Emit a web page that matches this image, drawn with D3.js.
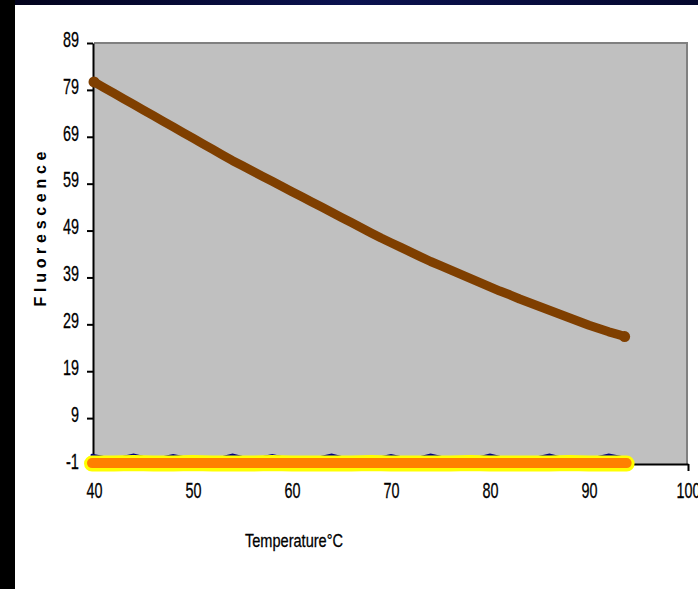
<!DOCTYPE html>
<html>
<head>
<meta charset="utf-8">
<script src="https://cdn.jsdelivr.net/npm/d3@7"></script>
<style>
  html, body { margin: 0; padding: 0; background: #fff; }
  svg { display: block; }
  text { font-family: "Liberation Sans", Arial, sans-serif; }
</style>
</head>
<body>
<div id="the_chart"></div>
<script>
// melt curve, fluorescence, one value per degree
var temps = [40, 41, 42, 43, 44, 45, 46, 47, 48, 49, 50, 51, 52, 53, 54, 55, 56, 57, 58, 59,
    60, 61, 62, 63, 64, 65, 66, 67, 68, 69, 70, 71, 72, 73, 74, 75, 76, 77, 78, 79,
    80, 81, 82, 83, 84, 85, 86, 87, 88, 89, 90, 91, 92, 93, 93.6];
var fluor = [80.7, 79.5, 78.3, 77.1, 75.9, 74.7, 73.5, 72.3, 71.1, 69.9, 68.7, 67.5, 66.3, 65.1, 63.9, 62.8, 61.7, 60.6, 59.5, 58.4,
    57.3, 56.2, 55.1, 54.0, 52.9, 51.8, 50.7, 49.6, 48.5, 47.4, 46.4, 45.4, 44.4, 43.4, 42.4, 41.5, 40.6, 39.7, 38.8, 37.9,
    37.0, 36.1, 35.3, 34.4, 33.6, 32.8, 32.0, 31.2, 30.4, 29.6, 28.8, 28.1, 27.4, 26.8, 26.4];

// flat series along the bottom
var lowTemps = [39.8, 42, 44, 46, 48, 50, 52, 54, 56, 58, 60, 62, 64, 66, 68, 70, 72, 74, 76,
    78, 80, 82, 84, 86, 88, 90, 92, 93.8];
var navyVals = [1.1, 0.2, 1.1, 0.1, 1.0, 0.2, 0.1, 1.1, 0.1, 1.0, 0.1, 0.2, 1.1, 0.1, 0.1, 1.0, 0.1, 1.1, 0.2,
    0.1, 1.1, 0.1, 0.2, 1.1, 0.1, 0.2, 1.1, 0.4];
var yellowVals = [-0.7, -0.7, -0.6, -0.7, -0.7, -0.6, -0.7, -0.7, -0.7, -0.6, -0.7, -0.7, -0.7, -0.7, -0.6, -0.7, -0.7, -0.7, -0.7,
    -0.6, -0.7, -0.7, -0.7, -0.7, -0.6, -0.7, -0.7, -0.7];
var orangeVals = [-0.6, -0.6, -0.6, -0.6, -0.6, -0.6, -0.6, -0.6, -0.6, -0.6, -0.6, -0.6, -0.6, -0.6, -0.6, -0.6, -0.6, -0.6, -0.6,
    -0.6, -0.6, -0.6, -0.6, -0.6, -0.6, -0.6, -0.6, -0.6];

var yTicks = [-1, 9, 19, 29, 39, 49, 59, 69, 79, 89];
var xTicks = [40, 50, 60, 70, 80, 90, 100];

var w = 698;
var h = 589;

var svg = d3.select("#the_chart")
    .append("svg")
    .attr("width", w)
    .attr("height", h);

// slide frame
var grad = svg.append("defs").append("linearGradient")
    .attr("id", "band")
    .attr("x1", "0").attr("x2", "1").attr("y1", "0").attr("y2", "0");
grad.append("stop").attr("offset", "0").attr("stop-color", "#02021a");
grad.append("stop").attr("offset", "0.5").attr("stop-color", "#0b1250");
grad.append("stop").attr("offset", "1").attr("stop-color", "#05082e");

svg.append("rect").attr("width", w).attr("height", h).attr("fill", "#fff");
svg.append("rect").attr("width", w).attr("height", 5).attr("fill", "url(#band)");
svg.append("rect").attr("width", 15).attr("height", h).attr("fill", "#000");

var x = d3.scaleLinear().domain([40, 100]).range([94, 688]);
var y = d3.scaleLinear().domain([-1, 89]).range([465, 43]);

// plot area
svg.append("rect")
    .attr("x", x(40))
    .attr("y", y(89))
    .attr("width", x(100) - x(40))
    .attr("height", y(-1) - y(89))
    .attr("fill", "#c0c0c0");
svg.append("path")
    .attr("d", "M" + x(40) + "," + y(89) + "H" + (x(100) - 1) + "V" + y(-1))
    .attr("fill", "none")
    .attr("stroke", "#808080")
    .attr("stroke-width", 2);

// narrow, tall digits like the old bitmap font
function narrow(s) {
    var n = 0;
    String(s).split("").forEach(function (c) { n += (c === "-") ? 5 : 8; });
    return n;
}
var fmt = function (d) { return String(d); };

var yAxis = svg.append("g")
    .attr("transform", "translate(" + (x(40) - 1) + ",0)")
    .call(d3.axisLeft(y).tickValues(yTicks).tickFormat(fmt).tickSize(6).tickSizeOuter(0).tickPadding(8));
var xAxis = svg.append("g")
    .attr("transform", "translate(0," + (y(-1) - 1) + ")")
    .call(d3.axisBottom(x).tickValues(xTicks).tickFormat(fmt).tickSize(7).tickSizeOuter(0).tickPadding(11));

svg.selectAll(".domain").attr("stroke", "#000").attr("stroke-width", 2);
svg.selectAll(".tick line").attr("stroke", "#000").attr("stroke-width", 2);
svg.selectAll(".tick text")
    .attr("fill", "#000")
    .attr("stroke", "#000")
    .attr("stroke-width", 0.3)
    .attr("font-size", 22)
    .attr("textLength", function (d) { return narrow(d); })
    .attr("lengthAdjust", "spacingAndGlyphs");
yAxis.selectAll(".tick text").attr("dy", "0.15em");
xAxis.selectAll(".tick text").attr("dy", "0.71em");

// series
var line = d3.line()
    .x(function (d) { return x(d[0]); })
    .y(function (d) { return y(d[1]); });

function lowSeries(vals) {
    return lowTemps.map(function (t, i) { return [t, vals[i]]; });
}

svg.append("path")
    .attr("d", line(lowSeries(navyVals)))
    .attr("fill", "none")
    .attr("stroke", "#000080")
    .attr("stroke-width", 3)
    .attr("stroke-linecap", "round");
svg.append("path")
    .attr("d", line(lowSeries(yellowVals)))
    .attr("fill", "none")
    .attr("stroke", "#ffff00")
    .attr("stroke-width", 16)
    .attr("stroke-linecap", "round");
svg.append("path")
    .attr("d", line(lowSeries(orangeVals)))
    .attr("fill", "none")
    .attr("stroke", "#ff8000")
    .attr("stroke-width", 10)
    .attr("stroke-linecap", "round");

var curve = temps.map(function (t, i) { return [t, fluor[i]]; });
svg.append("path")
    .attr("d", line(curve))
    .attr("fill", "none")
    .attr("stroke", "#7f3f00")
    .attr("stroke-width", 9)
    .attr("stroke-linecap", "round")
    .attr("stroke-linejoin", "round");
svg.selectAll("circle.pt")
    .data([curve[0], curve[curve.length - 1]])
    .enter()
    .append("circle")
    .attr("class", "pt")
    .attr("cx", function (d) { return x(d[0]); })
    .attr("cy", function (d) { return y(d[1]); })
    .attr("r", 5.5)
    .attr("fill", "#7f3f00");

// axis titles
svg.append("text")
    .attr("x", 294)
    .attr("y", 547)
    .attr("text-anchor", "middle")
    .attr("font-size", 19)
    .attr("stroke", "#000")
    .attr("stroke-width", 0.3)
    .attr("textLength", 98)
    .attr("lengthAdjust", "spacingAndGlyphs")
    .text("Temperature°C");

svg.append("text")
    .attr("transform", "translate(46,229) rotate(-90)")
    .attr("text-anchor", "middle")
    .attr("font-size", 16)
    .attr("font-weight", "bold")
    .attr("textLength", 155)
    .attr("lengthAdjust", "spacing")
    .text("Fluorescence");
</script>
</body>
</html>
